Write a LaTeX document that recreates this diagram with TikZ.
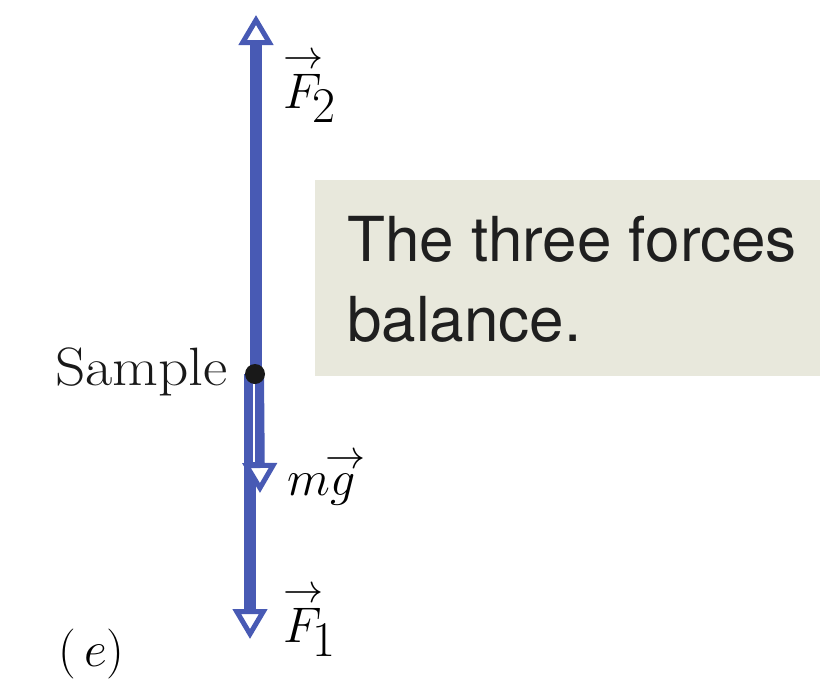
\documentclass[tikz,border=0pt]{standalone}
\usepackage{fix-cm}
\usepackage{amsmath}
\usepackage{fontspec}
\newfontfamily\boxfont{TeX Gyre Heros}
\usetikzlibrary{arrows.meta}
\definecolor{forceblue}{RGB}{72,90,180}
\definecolor{boxbg}{RGB}{232,232,220}
\newcommand{\vecarr}{\text{\fontsize{40}{40}\selectfont$\rightarrow$}}
\newcommand{\vecsub}[2]{$\overset{\vecarr}{#1}$\kern-11pt\raisebox{-14pt}{#2}}
\tikzset{
  force/.style={draw=forceblue, line width=12pt,
    -{Triangle[open, fill=white, length=30pt, width=34pt, line width'=5pt]}},
  lbl/.style={font=\fontsize{50}{56}\selectfont, inner sep=0pt, anchor=base west},
}
\begin{document}
\begin{tikzpicture}[x=1pt,y=-1pt]
\useasboundingbox (0,0) rectangle (820,680);
% text box
\fill[boxbg] (315,180) rectangle (820,376);
\node[anchor=north west, inner sep=0pt, font=\boxfont\fontsize{62}{80}\selectfont, align=left, text=black!88] (msg) at (347,216) {The three forces\\balance.};
% sample point
\coordinate (s) at (255,374);
\coordinate (f2) at (256,15);
\coordinate (f1) at (250,639);
\coordinate (mg) at (260,493);
\draw[force] (250,374) -- (f1);
\draw[force, line width=10pt] (259,374) -- (mg);
\draw[white, line width=1.2pt] (254,384) -- (254,462);
\draw[force] (256,374) -- (f2);
\fill[black!90] (s) circle (10pt) node[lbl, font=\fontsize{54}{58}\selectfont, anchor=base east, xshift=-27pt, yshift=-11pt] (samp) {\scalebox{1.1}[1]{Sample}};
% labels
\node[lbl] (lf2) at (283,108) {\vecsub{F}{2}};
\node[lbl] (lmg) at (287,495) {$m\overset{\makebox[24pt][l]{\vecarr}}{g}$};
\node[lbl] (lf1) at (283,642) {\vecsub{F}{1}};
\node[lbl] (le) at (58,666) {$(\,e)$};
\end{tikzpicture}
\end{document}
